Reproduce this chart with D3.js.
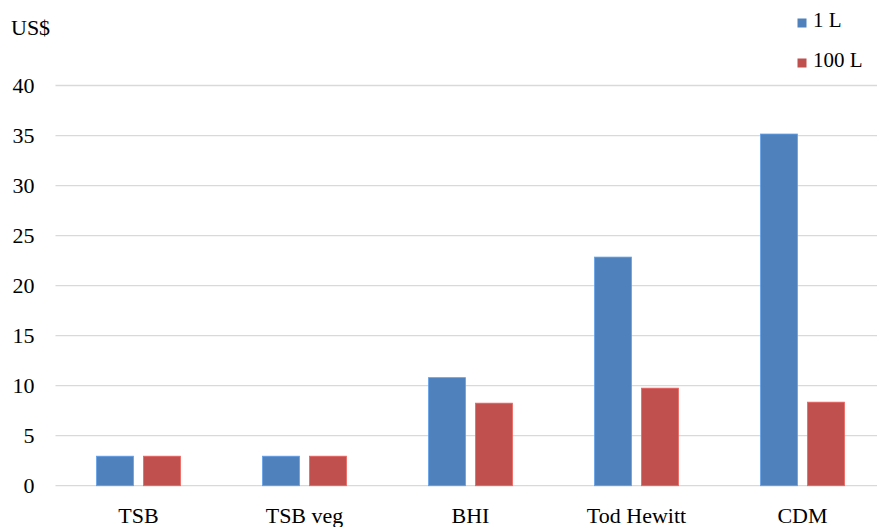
<!DOCTYPE html>
<html lang="en">
<head>
    <meta charset="UTF-8">
    <title>Cost per litre</title>
    <script src="https://d3js.org/d3.v7.min.js"></script>
    <style>
        body { margin: 0; background: #fff; }
    </style>
</head>
<body>
    <div id="chart"></div>

    <script>
        // data
        const categories = ["TSB", "TSB veg", "BHI", "Tod Hewitt", "CDM"];
        const seriesNames = ["1 L", "100 L"];
        const values1L = [2.95, 2.95, 10.8, 22.85, 35.15];
        const values100L = [2.95, 2.95, 8.25, 9.75, 8.35];
        const yTicks = [0, 5, 10, 15, 20, 25, 30, 35, 40];

        const colors = { "1 L": "#4F81BD", "100 L": "#C0504D" };
        const FONT = "Liberation Serif";

        const width = 877;
        const height = 527;
        const plotLeft = 55.5, plotRight = 885.5;
        const plotTop = 85.5, plotBottom = 485.7;

        const svg = d3.select("#chart")
            .append("svg")
            .attr("width", width)
            .attr("height", height)
            .attr("font-family", FONT);

        const y = d3.scaleLinear()
            .domain([0, 40])
            .range([plotBottom, plotTop]);

        const x0 = d3.scaleBand()
            .domain(categories)
            .range([plotLeft, plotRight])
            .paddingInner(0.494)
            .paddingOuter(0.247);

        const x1 = d3.scaleBand()
            .domain(seriesNames)
            .range([0, x0.bandwidth()])
            .paddingInner(0.213);

        // gridlines
        svg.append("g")
            .selectAll("line")
            .data(yTicks)
            .enter()
            .append("line")
            .attr("x1", plotLeft)
            .attr("x2", width)
            .attr("y1", d => y(d))
            .attr("y2", d => y(d))
            .attr("stroke", "#d9d9d9")
            .attr("stroke-width", 1.3);

        // y axis labels
        const yAxis = d3.axisLeft(y).tickValues(yTicks).tickSize(0).tickPadding(0);
        const yg = svg.append("g")
            .attr("transform", "translate(34.5,0)")
            .call(yAxis)
            .attr("font-family", FONT)
            .attr("font-size", 22);
        yg.select(".domain").remove();
        yg.selectAll("text")
            .attr("fill", "#000")
            .attr("dy", "0.3em");

        svg.append("text")
            .attr("x", 11)
            .attr("y", 35)
            .attr("font-size", 22)
            .text("US$");

        // bars
        const rows = categories.map((c, i) => ({
            category: c,
            values: [
                { series: "1 L", value: values1L[i] },
                { series: "100 L", value: values100L[i] }
            ]
        }));

        const groups = svg.append("g")
            .selectAll("g")
            .data(rows)
            .enter()
            .append("g")
            .attr("transform", d => `translate(${x0(d.category)},0)`);

        groups.selectAll("rect")
            .data(d => d.values)
            .enter()
            .append("rect")
            .attr("x", d => x1(d.series))
            .attr("y", d => y(d.value))
            .attr("width", x1.bandwidth())
            .attr("height", d => y(0) - y(d.value))
            .attr("fill", d => colors[d.series])
            .attr("stroke", d => d3.color(colors[d.series]).brighter(0.6))
            .attr("stroke-width", 0.8);

        // x axis labels
        const xAxis = d3.axisBottom(x0).tickSize(0).tickPadding(0);
        const xg = svg.append("g")
            .attr("transform", "translate(0,523)")
            .call(xAxis)
            .attr("font-family", FONT)
            .attr("font-size", 22);
        xg.select(".domain").remove();
        xg.selectAll("text")
            .attr("fill", "#000")
            .attr("dy", 0)
            .attr("y", 0);

        // legend
        const legend = svg.append("g");
        seriesNames.forEach((s, i) => {
            legend.append("rect")
                .attr("x", 797.5)
                .attr("y", 18.5 + i * 40)
                .attr("width", 9)
                .attr("height", 9)
                .attr("fill", colors[s]);
            legend.append("text")
                .attr("x", 813)
                .attr("y", 27 + i * 40)
                .attr("font-size", 21)
                .text(s);
        });
    </script>
</body>
</html>
